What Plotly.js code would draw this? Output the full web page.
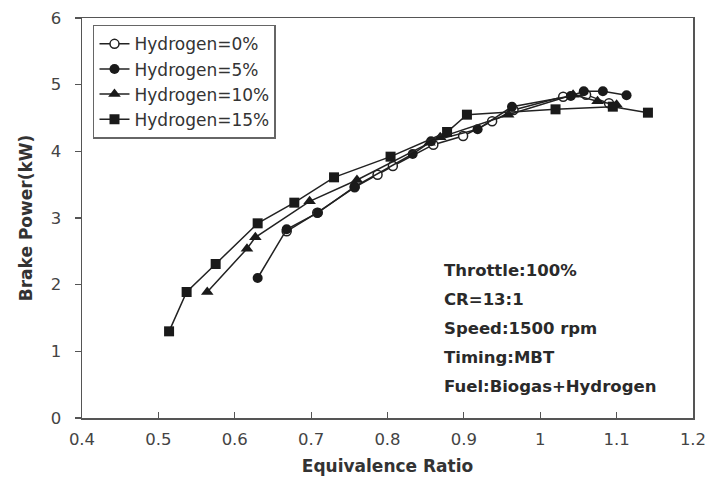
<!DOCTYPE html>
<html>
<head>
<meta charset="utf-8">
<script src="https://cdn.plot.ly/plotly-3.0.1.min.js"></script>
<style>html,body{margin:0;padding:0;background:#fff;}#chart{width:710px;height:491px;}</style>
</head>
<body>
<div id="chart"></div>
<script>
const seriesNames = ["Hydrogen=0%", "Hydrogen=5%", "Hydrogen=10%", "Hydrogen=15%"];
const h0x = [0.668, 0.708, 0.757, 0.787, 0.807, 0.860, 0.899, 0.937, 0.965, 1.030, 1.060, 1.090];
const h0y = [2.80, 3.08, 3.46, 3.65, 3.78, 4.10, 4.23, 4.45, 4.62, 4.82, 4.85, 4.72];
const h5x = [0.630, 0.668, 0.709, 0.757, 0.833, 0.857, 0.918, 0.963, 1.040, 1.057, 1.082, 1.113];
const h5y = [2.10, 2.83, 3.08, 3.47, 3.96, 4.15, 4.33, 4.67, 4.83, 4.90, 4.90, 4.84];
const h10x = [0.564, 0.616, 0.627, 0.698, 0.760, 0.855, 0.869, 0.958, 1.043, 1.075, 1.100];
const h10y = [1.89, 2.54, 2.71, 3.25, 3.57, 4.13, 4.21, 4.55, 4.85, 4.75, 4.70];
const h15x = [0.514, 0.537, 0.575, 0.630, 0.678, 0.730, 0.804, 0.878, 0.904, 1.020, 1.095, 1.141];
const h15y = [1.30, 1.89, 2.31, 2.92, 3.23, 3.61, 3.92, 4.29, 4.55, 4.63, 4.67, 4.58];
const xTicks = [0.4, 0.5, 0.6, 0.7, 0.8, 0.9, 1, 1.1, 1.2];
const yTicks = [0, 1, 2, 3, 4, 5, 6];
const notes = ["Throttle:100%", "CR=13:1", "Speed:1500 rpm", "Timing:MBT", "Fuel:Biogas+Hydrogen"];

const FONT = "DejaVu Sans, Arial, sans-serif";
const xs = [h0x, h5x, h10x, h15x];
const ys = [h0y, h5y, h10y, h15y];
const symbols = ["circle-open", "circle", "triangle-up", "square"];
const traces = seriesNames.map((n, i) => ({
  x: xs[i], y: ys[i], name: n, type: "scatter", mode: "lines+markers",
  line: {color: "#222", width: 1.5},
  marker: i === 0
    ? {symbol: "circle", size: 9, color: "#fff", line: {color: "#222", width: 1.5}}
    : {symbol: symbols[i], size: i === 2 ? 11 : 10, color: "#1a1a1a", line: {color: "#1a1a1a", width: 0}}
}));

const annotations = notes.map((t, i) => ({
  text: "<b>" + t + "</b>", xref: "paper", yref: "paper",
  x: (442 - 82) / 611, y: 1 - (270 + i * 29 - 18) / 400,
  xanchor: "left", yanchor: "middle", showarrow: false,
  font: {family: FONT, size: 16.5, color: "#2a2a2a"}
}));

const layout = {
  width: 710, height: 491,
  margin: {l: 82, r: 17, t: 18, b: 73},
  paper_bgcolor: "#fff", plot_bgcolor: "#fff",
  font: {family: FONT, color: "#333"},
  showlegend: true,
  legend: {
    x: 0.018, y: 0.983, xanchor: "left", yanchor: "top",
    bgcolor: "#fff", bordercolor: "#666", borderwidth: 1.5,
    font: {size: 17, color: "#333"}, tracegroupgap: 0
  },
  xaxis: {
    range: [0.4, 1.2], tickvals: xTicks, ticktext: xTicks.map(String),
    ticks: "inside", ticklen: 6, tickcolor: "#555", tickwidth: 1.2,
    showline: true, linecolor: "#555", linewidth: 1.5, mirror: true,
    showgrid: false, zeroline: false, ticklabelstandoff: 6,
    tickfont: {size: 16.5, color: "#444"},
    title: {text: "<b>Equivalence Ratio</b>", font: {size: 17, color: "#333"}, standoff: 12}
  },
  yaxis: {
    range: [0, 6], tickvals: yTicks, ticktext: yTicks.map(String),
    ticks: "outside", ticklen: 6, tickcolor: "#555", tickwidth: 1.2,
    showline: true, linecolor: "#555", linewidth: 1.5, mirror: true,
    showgrid: false, zeroline: false, ticklabelstandoff: 10,
    tickfont: {size: 16.5, color: "#444"},
    title: {text: "<b>Brake Power(kW)</b>", font: {size: 17, color: "#333"}, standoff: 14}
  },
  annotations: annotations
};

Plotly.newPlot("chart", traces, layout, {displayModeBar: false, staticPlot: true});
</script>
</body>
</html>
